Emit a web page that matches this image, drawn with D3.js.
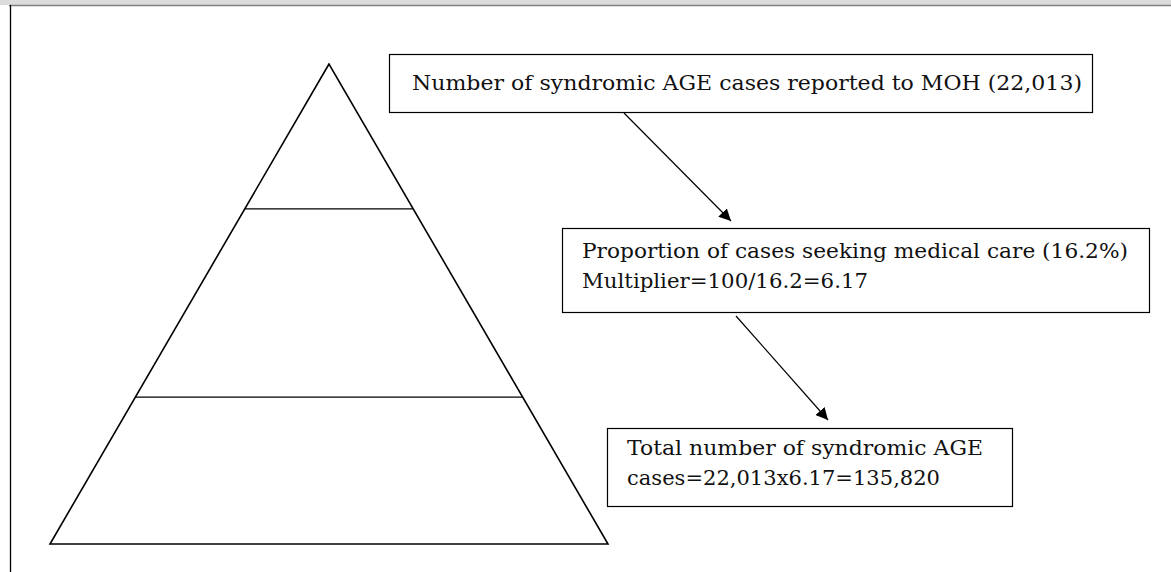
<!DOCTYPE html>
<html>
<head>
<meta charset="utf-8">
<script src="https://cdn.jsdelivr.net/npm/d3@7"></script>
<style>
  body { margin: 0; background: #fff; }
  svg { display: block; }
</style>
</head>
<body>
<svg id="chart" width="1171" height="572"></svg>
<script>
// pyramid tiers, top to bottom
var tiers = ["Reported to MOH", "Sought medical care", "All syndromic AGE cases"];
// where each tier ends, as a share of pyramid height
var tierBreaks = [0, 0.302, 0.694, 1];

// boxes on the right
var boxLines = [
    ["Number of syndromic AGE cases reported to MOH (22,013)"],
    ["Proportion of cases seeking medical care (16.2%)", "Multiplier=100/16.2=6.17"],
    ["Total number of syndromic AGE", "cases=22,013x6.17=135,820"]
];

var svg = d3.select("#chart");
var font = "'DejaVu Serif', 'Liberation Serif', serif";

// page frame: grey strip at the top, rule on the left
svg.append("rect").attr("x", 0).attr("y", 0).attr("width", 1171).attr("height", 5).attr("fill", "#dcdcdc");
svg.append("line").attr("x1", 9).attr("x2", 1171).attr("y1", 5.5).attr("y2", 5.5)
    .attr("stroke", "#808080").attr("stroke-width", 1.5);
svg.append("line").attr("x1", 10.5).attr("x2", 10.5).attr("y1", 5).attr("y2", 572)
    .attr("stroke", "#000").attr("stroke-width", 1.3);

// pyramid
var apex = { x: 329, y: 64 },
    baseL = 50,
    baseR = 608,
    baseY = 544;
var y = d3.scaleLinear().domain([0, 1]).range([apex.y, baseY]);
var xl = d3.scaleLinear().domain([0, 1]).range([apex.x, baseL]);
var xr = d3.scaleLinear().domain([0, 1]).range([apex.x, baseR]);

var pyr = svg.append("g").attr("fill", "none").attr("stroke", "#000").attr("stroke-width", 1.6);
pyr.append("path")
    .attr("d", d3.line()([[xl(0), y(0)], [xl(1), y(1)], [xr(1), y(1)], [xr(0), y(0)]]) + "Z")
    .attr("stroke-linejoin", "miter");
pyr.selectAll("line.tier")
    .data(tiers.slice(0, -1))
    .join("line")
    .attr("class", "tier")
    .attr("x1", function (d, i) { return xl(tierBreaks[i + 1]); })
    .attr("x2", function (d, i) { return xr(tierBreaks[i + 1]); })
    .attr("y1", function (d, i) { return y(tierBreaks[i + 1]); })
    .attr("y2", function (d, i) { return y(tierBreaks[i + 1]); })
    .attr("stroke-width", 1.3);

// box geometry; lw = printed width of each text line
var boxes = [
    { x: 389, y: 54, w: 703, h: 58, tx: 412, ty: 90, lh: 30, lw: [670] },
    { x: 562, y: 228, w: 587, h: 84, tx: 582, ty: 258, lh: 30, lw: [546, 286] },
    { x: 607, y: 428, w: 405, h: 78, tx: 627, ty: 455, lh: 30, lw: [356, 313] }
];

var defs = svg.append("defs");
defs.append("marker")
    .attr("id", "arrow")
    .attr("viewBox", "0 0 10 10")
    .attr("refX", 10).attr("refY", 5)
    .attr("markerWidth", 12).attr("markerHeight", 12)
    .attr("markerUnits", "userSpaceOnUse")
    .attr("orient", "auto")
    .append("path")
    .attr("d", "M0,0L10,5L0,10Z")
    .attr("fill", "#000");

var g = svg.selectAll("g.box")
    .data(boxLines)
    .join("g")
    .attr("class", "box");

g.append("rect")
    .attr("x", function (d, i) { return boxes[i].x + 0.5; })
    .attr("y", function (d, i) { return boxes[i].y + 0.5; })
    .attr("width", function (d, i) { return boxes[i].w; })
    .attr("height", function (d, i) { return boxes[i].h; })
    .attr("fill", "#fff")
    .attr("stroke", "#000")
    .attr("stroke-width", 1.2);

g.each(function (lines, i) {
    var b = boxes[i];
    d3.select(this).selectAll("text")
        .data(lines)
        .join("text")
        .attr("x", b.tx)
        .attr("y", function (d, j) { return b.ty + j * b.lh; })
        .attr("font-family", font)
        .attr("font-size", 20)
        .attr("textLength", function (d, j) { return b.lw[j]; })
        .attr("lengthAdjust", "spacingAndGlyphs")
        .attr("fill", "#111")
        .text(function (d) { return d; });
});

// arrows between boxes
var arrows = [
    [[624, 113], [731, 221]],
    [[736, 316], [828, 420]]
];
svg.selectAll("line.arrow")
    .data(arrows)
    .join("line")
    .attr("class", "arrow")
    .attr("x1", function (d) { return d[0][0]; })
    .attr("y1", function (d) { return d[0][1]; })
    .attr("x2", function (d) { return d[1][0]; })
    .attr("y2", function (d) { return d[1][1]; })
    .attr("stroke", "#000")
    .attr("stroke-width", 1.2)
    .attr("marker-end", "url(#arrow)");
</script>
</body>
</html>
